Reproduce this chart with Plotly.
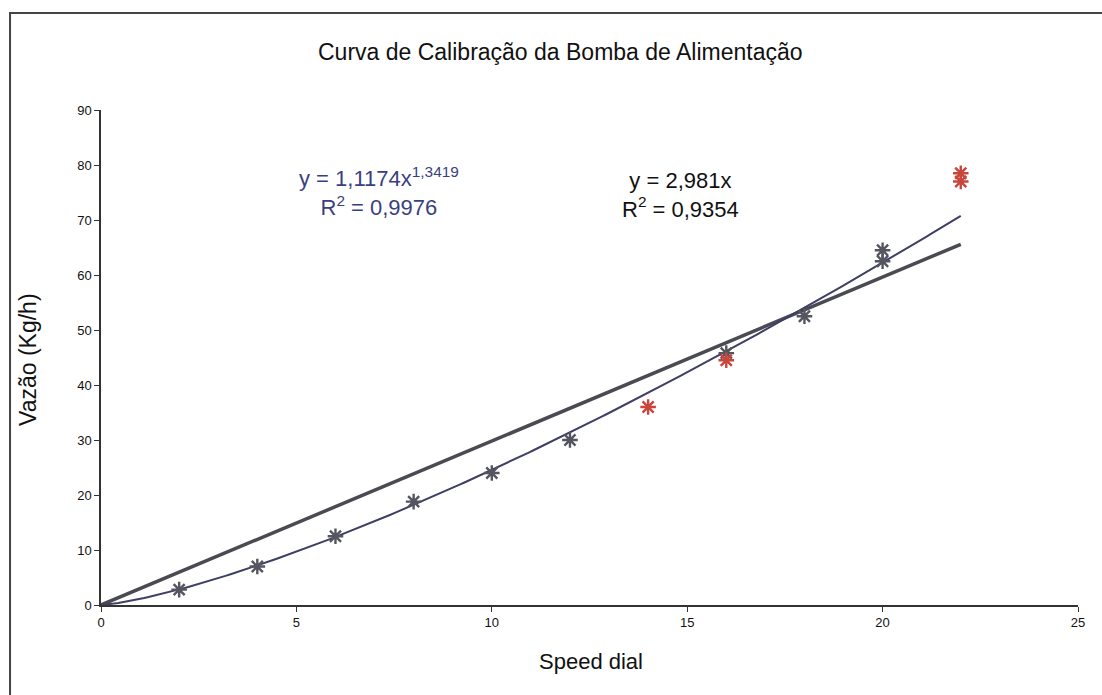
import numpy as np
import plotly.graph_objects as go

# Measured calibration points (speed dial setting vs. flow rate)
speed_gray = [2, 4, 6, 8, 10, 12, 16, 18, 20, 20]
flow_gray = [2.8, 7.0, 12.5, 18.8, 24.0, 30.0, 45.8, 52.5, 64.5, 62.5]
speed_red = [14, 16, 22, 22]
flow_red = [36.0, 44.5, 78.5, 77.0]

# Trendline coefficients
power_a = 1.1174
power_b = 1.3419
power_r2 = "0,9976"
linear_m = 2.981
linear_r2 = "0,9354"
trend_x_max = 22

x_ticks = [0, 5, 10, 15, 20, 25]
y_ticks = [0, 10, 20, 30, 40, 50, 60, 70, 80, 90]

FONT = "Arial, Liberation Sans, sans-serif"
GRAY = "#55555f"
RED = "#c9463d"

xs = np.linspace(0, trend_x_max, 200)
fig = go.Figure()

fig.add_trace(go.Scatter(
    x=xs, y=linear_m * xs, mode="lines",
    line=dict(color="#4a4a52", width=3.5), hoverinfo="skip", showlegend=False))
fig.add_trace(go.Scatter(
    x=xs, y=power_a * xs ** power_b, mode="lines",
    line=dict(color="#3f3f66", width=2), hoverinfo="skip", showlegend=False))

fig.add_trace(go.Scatter(
    x=speed_gray, y=flow_gray, mode="markers",
    marker=dict(symbol="asterisk-open", size=13, color=GRAY,
                line=dict(color=GRAY, width=2.4)),
    showlegend=False))
fig.add_trace(go.Scatter(
    x=speed_red, y=flow_red, mode="markers",
    marker=dict(symbol="asterisk-open", size=13, color=RED,
                line=dict(color=RED, width=2.4)),
    showlegend=False))

annotations = [
    dict(text="Curva de Calibração da Bomba de Alimentação", x=0.47, y=1.117,
         font=dict(size=23, color="#111")),
    dict(text="Speed dial", x=0.5015, y=-0.115, font=dict(size=22, color="#111")),
    dict(text="Vazão (Kg/h)", x=-0.0747, y=0.495, textangle=-90,
         font=dict(size=23, color="#111")),
    dict(text=f"y = 1,1174x<sup>1,3419</sup><br>R<sup>2</sup> = {power_r2}",
         x=0.285, y=0.836, font=dict(size=22, color="#3a3f80")),
    dict(text=f"y = 2,981x<br>R<sup>2</sup> = {linear_r2}",
         x=0.593, y=0.828, font=dict(size=22, color="#111")),
]
for a in annotations:
    a.update(xref="paper", yref="paper", showarrow=False, xanchor="center", yanchor="middle",
             font=dict(family=FONT, **a["font"]))

fig.update_layout(
    width=1102, height=695,
    margin=dict(l=101, r=24, t=110, b=90),
    paper_bgcolor="white", plot_bgcolor="white",
    font=dict(family=FONT, size=13, color="#111"),
    annotations=annotations,
    shapes=[dict(type="rect", xref="paper", yref="paper",
                 x0=-0.0931, x1=1.05, y0=-0.2, y1=1.196,
                 line=dict(color="#444", width=2), layer="below")],
    xaxis=dict(range=[0, 25], tickvals=x_ticks, showgrid=False, zeroline=False,
               showline=True, linecolor="#333", linewidth=1.5,
               ticks="outside", ticklen=5, tickcolor="#333",
               tickfont=dict(size=13)),
    yaxis=dict(range=[0, 90], tickvals=y_ticks, showgrid=False, zeroline=False,
               showline=True, linecolor="#333", linewidth=1.5,
               ticks="outside", ticklen=5, tickcolor="#333",
               tickfont=dict(size=13)),
)

fig.write_html("out.html")
